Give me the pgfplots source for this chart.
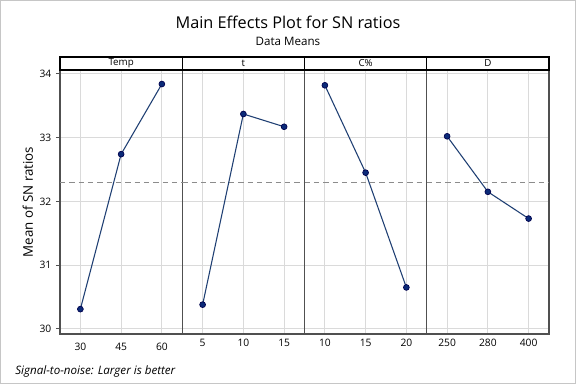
\documentclass[border=0pt]{standalone}
\usepackage{fontspec}
\setmainfont{Open Sans}
\usepackage{pgfplots}
\pgfplotsset{compat=1.18}
\definecolor{lineblue}{HTML}{1F3F73}
\definecolor{markblue}{HTML}{0B2A78}
\definecolor{gridgray}{HTML}{DADADA}
\definecolor{framegray}{HTML}{505050}
\definecolor{dashgray}{HTML}{8C8C8C}
\pgfplotsset{panel/.style={
  scale only axis, width=91.6875pt, height=198pt, anchor=south west,
  xmin=0.5, xmax=3.5, ymin=29.92, ymax=34.06,
  xtick={1,2,3}, ytick={30,31,32,33,34},
  grid=major, major grid style={gridgray, line width=0.6pt},
  axis line style={framegray, line width=0.8pt},
  xtick style={draw=none},
  yticklabels={}, ytick style={draw=none},
  tick label style={font=\fontsize{7.7}{9}\selectfont},
  /pgf/number format/assume math mode=true,
  clip=false,
},
effect/.style={lineblue, line width=0.8pt, mark=*, mark size=2.2pt, mark options={fill=markblue, draw=black!70!blue, line width=0.5pt}},
meanline/.style={dashgray, dashed, line width=0.7pt, dash pattern=on 4pt off 3pt}
}
\newcommand{\strip}[1]{%
  \draw[black, line width=0.8pt, fill=white] (rel axis cs:0,1) rectangle ([yshift=9.75pt]rel axis cs:1,1);
  \node[font=\fontsize{7.3}{8}\selectfont, inner sep=0pt] at ([yshift=4.875pt]rel axis cs:0.5,1) {#1};}
\begin{document}
\begin{tikzpicture}
\draw[draw=gray!45, line width=0.8pt, fill=white] (0.4pt,0.4pt) rectangle (431.6pt,287.6pt);
\node[font=\fontsize{12.2}{14}\selectfont] at (216pt,271.5pt) {Main Effects Plot for SN ratios};
\node[font=\fontsize{8.7}{10}\selectfont] at (216pt,257pt) {Data Means};
\node[font=\fontsize{8.7}{10}\selectfont\itshape, anchor=west] at (8pt,9.5pt) {Signal-to-noise: Larger is better};

\begin{axis}[panel, at={(45pt,37.5pt)},
  yticklabels={30,31,32,33,34}, ytick style={draw=framegray, line width=0.6pt},
  tick align=outside, major tick length=3pt,
  xticklabels={30,45,60},
  ylabel={Mean of SN ratios}, ylabel style={font=\fontsize{10}{12}\selectfont, yshift=-2pt}]
\addplot[meanline] coordinates {(0.5,32.30) (3.5,32.30)};
\addplot[effect] coordinates {(1,30.31) (2,32.74) (3,33.84)};
\strip{Temp}
\end{axis}

\begin{axis}[panel, at={(136.6875pt,37.5pt)}, xticklabels={5,10,15}]
\addplot[meanline] coordinates {(0.5,32.30) (3.5,32.30)};
\addplot[effect] coordinates {(1,30.38) (2,33.37) (3,33.17)};
\strip{t}
\end{axis}

\begin{axis}[panel, at={(228.375pt,37.5pt)}, xticklabels={10,15,20}]
\addplot[meanline] coordinates {(0.5,32.30) (3.5,32.30)};
\addplot[effect] coordinates {(1,33.82) (2,32.45) (3,30.65)};
\strip{C\%}
\end{axis}

\begin{axis}[panel, at={(320.0625pt,37.5pt)}, xticklabels={250,280,400}]
\addplot[meanline] coordinates {(0.5,32.30) (3.5,32.30)};
\addplot[effect] coordinates {(1,33.02) (2,32.15) (3,31.73)};
\strip{D}
\end{axis}
\end{tikzpicture}
\end{document}
